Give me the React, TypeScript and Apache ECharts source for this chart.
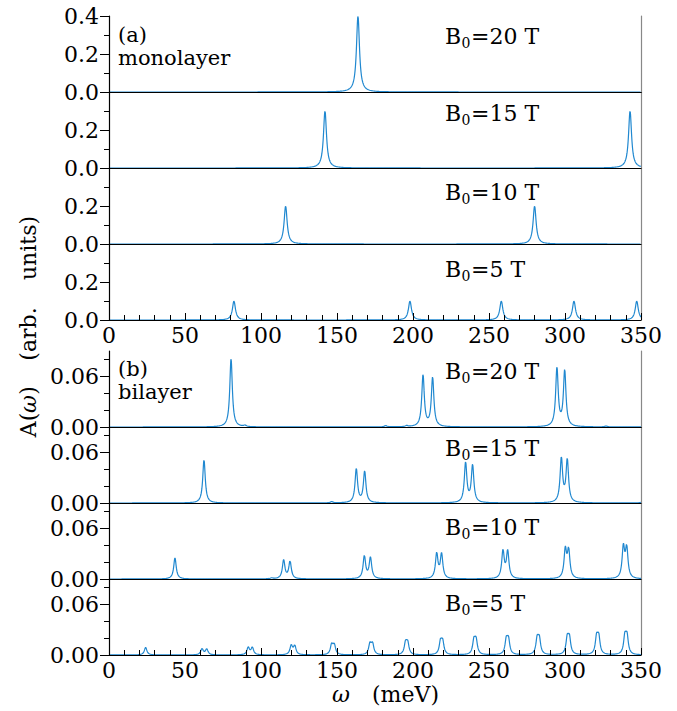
import React, { useEffect, useRef } from "react";
import * as echarts from "echarts";

// Peak positions (meV) and heights
const monoPeaks20 = [[163.8, 0.40]];
const monoPeaks15 = [[142.1, 0.30], [342.8, 0.30]];
const monoPeaks10 = [[116.2, 0.20], [280.0, 0.20]];
const monoPeaks5 = [[82.2, 0.10], [198.0, 0.10], [258.1, 0.10], [305.9, 0.10], [347.2, 0.10]];

const biPeaks20 = [[80.3, 0.081], [89.5, 0.0015], [182, 0.0015], [195.8, 0.0012], [206.6, 0.061], [212.9, 0.058], [294.7, 0.069], [299.8, 0.066], [327, 0.001]];
const biPeaks15 = [[62.5, 0.051], [146.5, 0.0015], [162.7, 0.040], [168.2, 0.037], [234.6, 0.047], [239.2, 0.044], [297.6, 0.052], [301.5, 0.050], [352, 0.004]];
const biPeaks10 = [[43.4, 0.025], [107, 0.001], [114.9, 0.0221], [119.1, 0.0205], [168.0, 0.0268], [172.0, 0.0248], [215.6, 0.0295], [218.8, 0.0288], [259.2, 0.0326], [262.3, 0.0318], [300.2, 0.0333], [302.4, 0.0325], [338.4, 0.0362], [340.6, 0.035]];
const biPeaks5 = [[24.1, 0.009], [61.2, 0.0072], [64.3, 0.0069], [91.6, 0.0087], [94.3, 0.0085], [119.9, 0.0109], [122.2, 0.0104], [146.5, 0.0116], [148.2, 0.0111], [171.7, 0.0126], [173.4, 0.0123], [195.1, 0.0133], [196.5, 0.0133], [218.1, 0.0147], [219.5, 0.0147], [240.1, 0.0162], [241.5, 0.0162], [261.4, 0.0168], [262.8, 0.0168], [281.7, 0.0177], [283.1, 0.0177], [301.5, 0.0186], [302.9, 0.0186], [320.8, 0.0197], [322.2, 0.0197], [339.4, 0.0206], [340.8, 0.0206]];

const fieldValues = ["20", "15", "10", "5"];
const xTicks = [0, 50, 100, 150, 200, 250, 300, 350];
const monoTicksMajor = [0, 0.2, 0.4];
const monoTicksMinor = [0.1, 0.3];
const biTicksMajor = [0, 0.06];
const biTicksMinor = [0.02, 0.04, 0.08];

const X_MIN = 0;
const X_MAX = 350;
const MONO_WIDTH = 1.2;
const BI_WIDTH = 1.0;

function spectrum(peaks: number[][], gamma: number) {
  const pts: number[][] = [];
  for (let k = 0; k <= (X_MAX - X_MIN) * 10; k++) {
    const x = X_MIN + k / 10;
    let y = 0;
    for (const [c, h] of peaks) {
      const d = (x - c) / gamma;
      y += h / (1 + d * d);
    }
    pts.push([x, y]);
  }
  return pts;
}

const FONT = "DejaVu Serif";
const BLUE = "#2088d0";

function txt(x: number, y: number, text: string, size = 22, extra: any = {}, rotation = 0) {
  return {
    type: "text", x, y, rotation, silent: true,
    style: { text, fontFamily: FONT, fontSize: size, lineHeight: size, fill: "#000", verticalAlign: "middle", ...extra },
  };
}

export default function App() {
  const ref = useRef<HTMLDivElement>(null);
  useEffect(() => {
    if (!ref.current) return;
    const chart = echarts.init(ref.current, undefined, { renderer: "svg" });
    const tops = [16, 92, 168, 244, 351, 427, 503, 579];
    const peaksAll = [monoPeaks20, monoPeaks15, monoPeaks10, monoPeaks5, biPeaks20, biPeaks15, biPeaks10, biPeaks5];
    const grids: any[] = [];
    const xAxes: any[] = [];
    const yAxes: any[] = [];
    const series: any[] = [];
    const graphics: any[] = [];
    const labelY = [36.5, 113.5, 192.5, 269.5, 371.5, 448.5, 527.5, 603.5];

    for (let i = 0; i < 8; i++) {
      const mono = i < 4;
      const bottom = i === 3 || i === 7;
      const topPanel = i === 0 || i === 4;
      grids.push({ left: 109, width: 532, top: tops[i], height: 76 });
      const xi = xAxes.length;
      xAxes.push({
        type: "value", gridIndex: i, min: X_MIN, max: X_MAX, interval: 50, z: 5,
        axisLine: { show: true, lineStyle: { color: "#000", width: 1.2 } },
        axisTick: { show: bottom, inside: true, length: 7, lineStyle: { color: "#000" } },
        minorTick: { show: bottom, splitNumber: 5, length: 5, lineStyle: { color: "#000" } },
        axisLabel: {
          show: bottom, margin: 6, color: "#000", fontFamily: FONT, fontSize: 22, lineHeight: 18,
          customValues: xTicks, formatter: (v: number) => String(v),
        },
        splitLine: { show: false },
      });
      if (topPanel) {
        xAxes.push({
          type: "value", gridIndex: i, position: "top", min: X_MIN, max: X_MAX, z: 5,
          axisLine: { show: true, lineStyle: { color: "#000", width: 1.2 } },
          axisTick: { show: false }, axisLabel: { show: false }, splitLine: { show: false },
        });
      }
      const max = mono ? 0.4 : 0.09;
      const majors = mono ? (i === 0 ? monoTicksMajor : monoTicksMajor.slice(0, 2)) : biTicksMajor;
      const yi = yAxes.length;
      yAxes.push({
        type: "value", gridIndex: i, position: "left", min: 0, max, interval: mono ? 0.2 : 0.03, z: 5,
        axisLine: { show: true, lineStyle: { color: "#000", width: 1.2 } },
        axisTick: { show: true, inside: false, length: 9, customValues: majors, lineStyle: { color: "#000" } },
        axisLabel: {
          show: true, margin: 10, color: "#000", fontFamily: FONT, fontSize: 22, customValues: majors,
          formatter: (v: number) => v.toFixed(mono ? 1 : 2),
        },
        splitLine: { show: false },
      });
      yAxes.push({
        type: "value", gridIndex: i, position: "left", min: 0, max, interval: mono ? 0.2 : 0.03,
        axisLine: { show: false },
        axisTick: { show: true, inside: false, length: 5, customValues: mono ? monoTicksMinor : biTicksMinor, lineStyle: { color: "#000" } },
        axisLabel: { show: false },
        splitLine: { show: false },
      });
      yAxes.push({
        type: "value", gridIndex: i, position: "right", min: 0, max,
        axisLine: { show: true, lineStyle: { color: "#888", width: 1.2 } },
        axisTick: { show: false }, axisLabel: { show: false }, splitLine: { show: false },
      });
      series.push({
        type: "line", xAxisIndex: xi, yAxisIndex: yi, showSymbol: false, symbol: "none",
        data: spectrum(peaksAll[i], mono ? MONO_WIDTH : BI_WIDTH),
        lineStyle: { color: BLUE, width: 1.2 }, clip: true, z: 2,
      });
      const f = fieldValues[i % 4];
      graphics.push(
        txt(445, labelY[i], "B", 22),
        txt(461.5, labelY[i] + 6, "0", 14),
        txt(471, labelY[i], "=" + f + " T", 22),
      );
    }

    graphics.push(
      txt(118, 35, "(a)", 21),
      txt(118, 58, "monolayer", 21),
      txt(118, 369, "(b)", 21),
      txt(118, 392, "bilayer", 21),
      // y-axis name (rotated, reading bottom to top)
      txt(28, 425, "A(", 22, { align: "center" }, Math.PI / 2),
      txt(28, 404, "ω", 22, { align: "center", fontStyle: "italic" }, Math.PI / 2),
      txt(28, 390.5, ")", 22, { align: "center" }, Math.PI / 2),
      txt(28, 334, "(arb.", 22, { align: "center" }, Math.PI / 2),
      txt(28, 248, "units)", 22, { align: "center" }, Math.PI / 2),
      // x-axis name
      txt(341, 694, "ω", 22, { align: "center", fontStyle: "italic", lineHeight: 16 }),
      txt(405.5, 694, "(meV)", 22, { align: "center", lineHeight: 16 }),
    );

    chart.setOption({
      animation: false,
      backgroundColor: "#fff",
      grid: grids,
      xAxis: xAxes,
      yAxis: yAxes,
      series,
      graphic: graphics,
    });
    return () => chart.dispose();
  }, []);
  return <div ref={ref} style={{ position: "absolute", left: 0, top: 0, width: 677, height: 711 }} />;
}
